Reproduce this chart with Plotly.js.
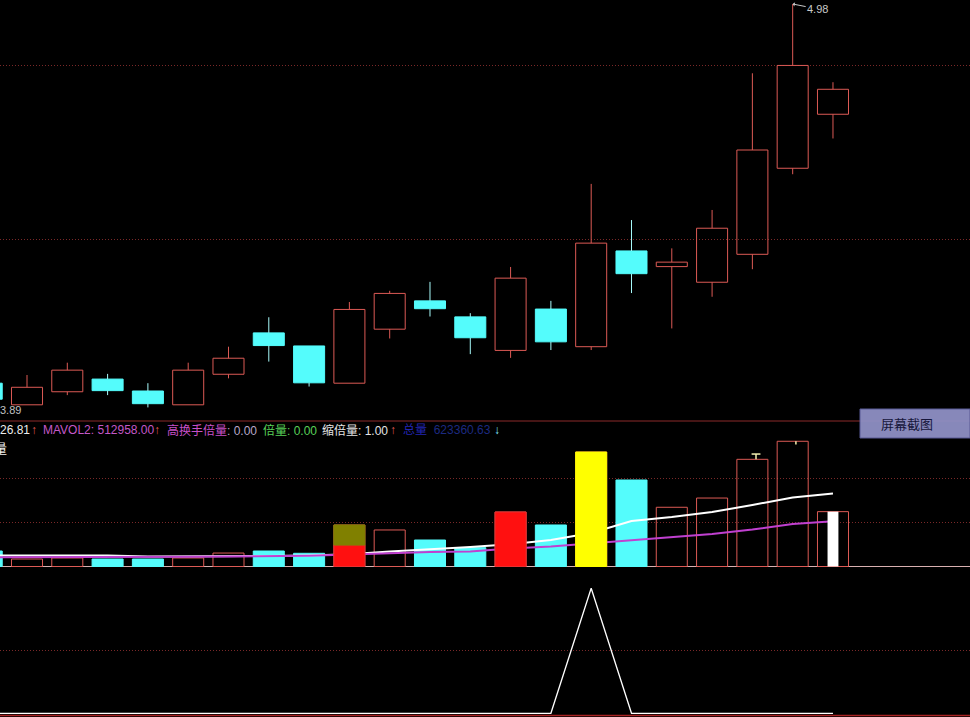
<!DOCTYPE html>
<html><head><meta charset="utf-8">
<script src="https://cdn.plot.ly/plotly-3.0.1.min.js"></script>
<style>html,body{margin:0;padding:0;background:#000;overflow:hidden}#chart{width:970px;height:717px}</style>
</head><body><div id="chart"></div>
<script>
// ---- data ----
const idx   = [0,1,2,3,4,5,6,7,8,9,10,11,12,13,14,15,16,17,18,19,20,21];
const open  = [3.962,3.904,3.939,3.973,3.941,3.904,3.986,4.097,4.062,3.962,4.107,4.183,4.140,4.050,4.161,4.060,4.317,4.275,4.233,4.308,4.539,4.684];
const high  = [3.976,3.984,4.017,3.987,3.962,4.017,4.060,4.139,4.062,4.180,4.210,4.234,4.150,4.274,4.183,4.497,4.400,4.324,4.427,4.794,4.980,4.770];
const low   = [3.890,3.904,3.930,3.930,3.897,3.904,3.975,4.020,3.953,3.962,4.082,4.141,4.040,4.030,4.051,4.051,4.204,4.109,4.194,4.268,4.523,4.619];
const close = [3.919,3.951,3.997,3.942,3.907,3.997,4.029,4.063,3.963,4.160,4.203,4.162,4.084,4.244,4.073,4.338,4.256,4.287,4.378,4.588,4.815,4.751];

const volume  = [176000,85000,97000,85000,85000,97000,153000,176000,150000,472000,415000,301000,214000,619000,472000,1301000,983000,673000,778000,1218000,1423000,623360.63];
// signal sticks drawn over the volume bars
const redPart   = [null,null,null,null,null,null,null,null,null,244000,null,null,null,619000,null,null,null,null,null,null,null,null];
const olivePart = [null,null,null,null,null,null,null,null,null,472000,null,null,null,null,null,null,null,null,null,null,null,null];
const yellowPart= [null,null,null,null,null,null,null,null,null,null,null,null,null,null,null,1301000,null,null,null,null,null,null];
const whitePart = [null,null,null,null,null,null,null,null,null,null,null,null,null,null,null,null,null,null,null,null,null,623360.63];
const mavol1 = [125000,125000,125000,125000,114000,114000,117000,120000,126000,140000,170000,193000,222000,252000,301000,381000,517000,562000,619000,699000,784000,830000];
const mavol2 = [105000,105000,105000,108000,111000,111000,114000,116000,122000,136000,153000,165000,170000,205000,227000,261000,301000,330000,369000,420000,483000,512958];
const signal = [0,0,0,0,0,0,0,0,0,0,0,0,0,0,0,1,0,0,0,0,0,0];

const headerLabels = {mavol1:'26.81', mavol2:'MAVOL2: 512958.00', gh:'高换手倍量', ghv:': 0.00', bl:'倍量: 0.00', sbl:'缩倍量: 1.00', zl:'总量', zlv:'623360.63'};
const priceGrid = [4.815, 4.349];
const volGrid = [500000, 1000000];
const sigGrid = [0.5];

// ---- styles ----
const RED = '#dc5a55', CYAN = '#54fcfc', BG = '#000000';
const FONT = 'Liberation Sans, Arial, Noto Sans CJK SC, sans-serif';
const W = 970, H = 717;

const up = idx.filter(i => close[i] >= open[i]);
const dn = idx.filter(i => close[i] < open[i]);

function bodies(list, fill, line) {
  return {type:'bar', x:list, base:list.map(i=>Math.min(open[i],close[i])),
    y:list.map(i=>Math.abs(close[i]-open[i])), width:0.77, xaxis:'x', yaxis:'y',
    marker:{color:fill, line:{color:line, width:1}}, hoverinfo:'skip', showlegend:false};
}
function wicks(list, color) {
  const xs=[], ys=[];
  list.forEach(i=>{
    const top=Math.max(open[i],close[i]), bot=Math.min(open[i],close[i]);
    if (high[i]>top){xs.push(i,i,null); ys.push(top,high[i],null);}
    if (low[i]<bot){xs.push(i,i,null); ys.push(low[i],bot,null);}
  });
  return {type:'scatter', mode:'lines', x:xs, y:ys, xaxis:'x', yaxis:'y',
    line:{color:color, width:1}, hoverinfo:'skip', showlegend:false};
}

const traces = [
  bodies(up, 'rgba(0,0,0,0)', RED),
  bodies(dn, CYAN, CYAN),
  wicks(up, RED),
  wicks(dn, '#a8fcfc'),
  {type:'bar', x:up, y:up.map(i=>volume[i]), base:0, width:0.77, xaxis:'x', yaxis:'y2',
    marker:{color:'rgba(0,0,0,0)', line:{color:RED, width:1}}, hoverinfo:'skip', showlegend:false},
  {type:'bar', x:dn, y:dn.map(i=>volume[i]), base:0, width:0.77, xaxis:'x', yaxis:'y2',
    marker:{color:CYAN, line:{color:CYAN, width:1}}, hoverinfo:'skip', showlegend:false},
  {type:'scatter', mode:'lines', x:idx, y:mavol1, xaxis:'x', yaxis:'y2', line:{color:'#ffffff', width:2}, hoverinfo:'skip', showlegend:false},
  {type:'scatter', mode:'lines', x:idx, y:mavol2, xaxis:'x', yaxis:'y2', line:{color:'#c040d0', width:2}, hoverinfo:'skip', showlegend:false},
  // signal sticks above the lines
  {type:'bar', x:idx, y:redPart, base:0, width:0.77, xaxis:'x', yaxis:'y4',
    marker:{color:'#ff1010', line:{color:'#e83030', width:1}}, hoverinfo:'skip', showlegend:false},
  {type:'bar', x:idx, y:idx.map(i=> olivePart[i]==null?null:olivePart[i]-redPart[i]), base:redPart, width:0.77, xaxis:'x', yaxis:'y4',
    marker:{color:'#808000', line:{color:'#808000', width:1}}, hoverinfo:'skip', showlegend:false},
  {type:'bar', x:idx, y:yellowPart, base:0, width:0.77, xaxis:'x', yaxis:'y4',
    marker:{color:'#ffff00', line:{color:'#ffff00', width:1}}, hoverinfo:'skip', showlegend:false},
  {type:'bar', x:idx, y:whitePart, base:0, width:0.27, xaxis:'x', yaxis:'y4',
    marker:{color:'#ffffff', line:{width:0}}, hoverinfo:'skip', showlegend:false},
  {type:'scatter', mode:'lines', x:[18.98,19.2,null,19.09,19.09,null,20.08,20.08], y:[1278000,1278000,null,1278000,1218000,null,1423000,1385000],
    xaxis:'x', yaxis:'y4', line:{color:'#f4f0b0', width:1.5}, hoverinfo:'skip', showlegend:false},
  {type:'scatter', mode:'lines', x:idx, y:signal, xaxis:'x', yaxis:'y3', line:{color:'#ffffff', width:1.3}, hoverinfo:'skip', showlegend:false}
];

function py(p){ return 1 - p/H; }   // pixel row -> paper
function px(p){ return p/W; }

const gridAxis = (dom, rng, tv) => ({domain:dom, range:rng, tickvals:tv, showgrid:true, gridcolor:'#7a2828', griddash:'1px,2px', gridwidth:1,
  showticklabels:false, zeroline:false, showline:false, ticks:'', fixedrange:true});

const hdr = (x, text, color) => ({xref:'paper', yref:'paper', x:px(x), y:py(430), xanchor:'left', yanchor:'middle',
  text:text, showarrow:false, font:{family:FONT, size:12, color:color}});

const layout = {
  width:W, height:H, paper_bgcolor:BG, plot_bgcolor:BG, margin:{l:0,r:0,t:0,b:0,pad:0},
  barmode:'overlay', showlegend:false,
  xaxis:{domain:[0,1], range:[0.330,24.40], visible:false, fixedrange:true},
  yaxis: gridAxis([py(421),1], [3.8605,4.9907], priceGrid),
  yaxis2: gridAxis([py(568),py(422)], [-17046,1642098], volGrid),
  yaxis4: {domain:[py(568),py(422)], range:[-17046,1642098], overlaying:'y2', visible:false, fixedrange:true},
  yaxis3: gridAxis([0,py(568)], [-0.0296,1.1624], sigGrid),
  shapes:[
    {type:'line', xref:'paper', yref:'paper', x0:0, x1:1, y0:py(421), y1:py(421), line:{color:'#8b2a2a', width:1}},
    {type:'line', xref:'paper', yref:'y2', x0:0, x1:1, y0:0, y1:0, line:{color:'#d8b0b0', width:1}, layer:'below'},
    {type:'line', xref:'paper', yref:'paper', x0:0, x1:1, y0:py(715.5), y1:py(715.5), line:{color:'#a82222', width:1.5}},
    {type:'rect', xref:'paper', yref:'paper', x0:px(860), x1:1, y0:py(438), y1:py(409), fillcolor:'#8f90c4', opacity:0.95, line:{color:'#5c5e9c', width:1}}
  ],
  annotations:[
    {xref:'x', yref:'y', x:20, y:high[20], text:high[20].toFixed(2), showarrow:true, ax:25, ay:5, arrowhead:1, arrowsize:0.7, arrowwidth:1,
      arrowcolor:'#c8c8c8', standoff:0, font:{family:FONT, size:11, color:'#c8c8c8'}},
    {xref:'paper', yref:'y', x:0, y:Math.min(...low), xanchor:'left', yanchor:'middle', xshift:-2, text:Math.min(...low).toFixed(2), showarrow:false,
      font:{family:FONT, size:11, color:'#c0c0c0'}},
    hdr(-2, headerLabels.mavol1, '#ececec'),
    hdr(29, '↑', '#e05a50'),
    hdr(41, headerLabels.mavol2, '#c458c8'),
    hdr(152, '↑', '#e05a50'),
    hdr(165, '<span style="color:#c850c8">'+headerLabels.gh+'</span><span style="color:#b8a8c8">'+headerLabels.ghv+'</span>', '#c850c8'),
    hdr(261, headerLabels.bl, '#58d058'),
    hdr(320, headerLabels.sbl, '#e4e4e4'),
    hdr(388, '↑', '#e05a50'),
    hdr(401, '<span style="color:#2226b0">'+headerLabels.zl+'</span>  <span style="color:#1c2a80">'+headerLabels.zlv+'</span>', '#1c2a80'),
    hdr(492, '↓', '#80e8f8'),
    {xref:'paper', yref:'paper', x:0, y:py(448), xanchor:'left', yanchor:'middle', xshift:-8, text:'量', showarrow:false,
      font:{family:FONT, size:13, color:'#f0f0f0'}},
    {xref:'paper', yref:'paper', x:px(907), y:py(424), xanchor:'center', yanchor:'middle', text:'屏幕截图', showarrow:false,
      font:{family:FONT, size:13, color:'#16163a'}}
  ]
};

Plotly.newPlot('chart', traces, layout, {staticPlot:true, displayModeBar:false});
</script>
</body></html>
